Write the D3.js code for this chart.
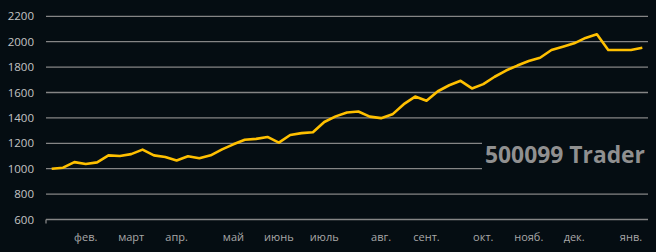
<!DOCTYPE html>
<html>
<head>
<meta charset="utf-8">
<script src="https://cdn.jsdelivr.net/npm/d3@7"></script>
<style>
    body {
        margin: 0;
        background: #050d12;
    }
    svg {
        display: block;
    }
    .ylab {
        font-family: "Open Sans", sans-serif;
        font-size: 11.5px;
        fill: #c4c4c4;
        text-anchor: end;
    }
    .xlab {
        font-family: "Open Sans", sans-serif;
        font-size: 11px;
        fill: #a8a8a8;
        text-anchor: middle;
    }
    .brand {
        font-family: "Open Sans", sans-serif;
        font-weight: bold;
        font-size: 24px;
        fill: #909090;
    }
</style>
</head>
<body>
<svg id="chart" width="656" height="252"></svg>
<script>
    // weekly equity values (53 points)
    const values = [
        1000, 1008, 1052, 1037, 1050, 1105, 1100, 1115, 1150, 1105,
        1092, 1065, 1098, 1082, 1105, 1152, 1192, 1228, 1235, 1250,
        1205, 1265, 1280, 1287, 1368, 1412, 1442, 1450, 1410, 1398,
        1428, 1508, 1568, 1535, 1610, 1657, 1692, 1632, 1666, 1724,
        1773, 1812, 1848, 1874, 1935, 1961, 1987, 2030, 2058, 1935,
        1935, 1935, 1952
    ];
    const monthLabels = ["фев.", "март", "апр.", "май", "июнь", "июль",
        "авг.", "сент.", "окт.", "нояб.", "дек.", "янв."];
    const monthIndex = [3, 7, 11, 16, 20, 24, 29, 33, 38, 42, 46, 51];
    const yTicks = [600, 800, 1000, 1200, 1400, 1600, 1800, 2000, 2200];

    const svg = d3.select("#chart");
    const left = 46, right = 648;

    const x = d3.scalePoint()
        .domain(d3.range(values.length))
        .range([left, right])
        .padding(0.5);
    const y = d3.scaleLinear().domain([600, 2200]).range([219.5, 16.3]);

    // gridlines
    svg.append("g").selectAll("line")
        .data(yTicks)
        .join("line")
        .attr("x1", left)
        .attr("x2", right)
        .attr("y1", d => y(d))
        .attr("y2", d => y(d))
        .attr("stroke", "#858585")
        .attr("stroke-width", 1.3);

    // little tick at the axis start
    svg.append("line")
        .attr("x1", left).attr("x2", left)
        .attr("y1", y(600)).attr("y2", y(600) + 4)
        .attr("stroke", "#858585")
        .attr("stroke-width", 1.3);

    svg.append("g").selectAll("text")
        .data(yTicks)
        .join("text")
        .attr("class", "ylab")
        .attr("x", 34)
        .attr("y", d => y(d) + 4)
        .text(d => d);

    svg.append("g").selectAll("text")
        .data(monthLabels)
        .join("text")
        .attr("class", "xlab")
        .attr("x", (d, i) => x(monthIndex[i]))
        .attr("y", 241)
        .text(d => d);

    const line = d3.line()
        .x((d, i) => x(i))
        .y(d => y(d));

    svg.append("path")
        .datum(values)
        .attr("d", line)
        .attr("fill", "none")
        .attr("stroke", "#ffc000")
        .attr("stroke-width", 2.6)
        .attr("stroke-linejoin", "round");

    // watermark text box
    svg.append("rect")
        .attr("x", 482)
        .attr("y", 128)
        .attr("width", 174)
        .attr("height", 54)
        .attr("fill", "#050d12");

    svg.append("text")
        .attr("class", "brand")
        .attr("x", 485)
        .attr("y", 162.5)
        .attr("textLength", 160)
        .attr("lengthAdjust", "spacingAndGlyphs")
        .text("500099 Trader");
</script>
</body>
</html>
